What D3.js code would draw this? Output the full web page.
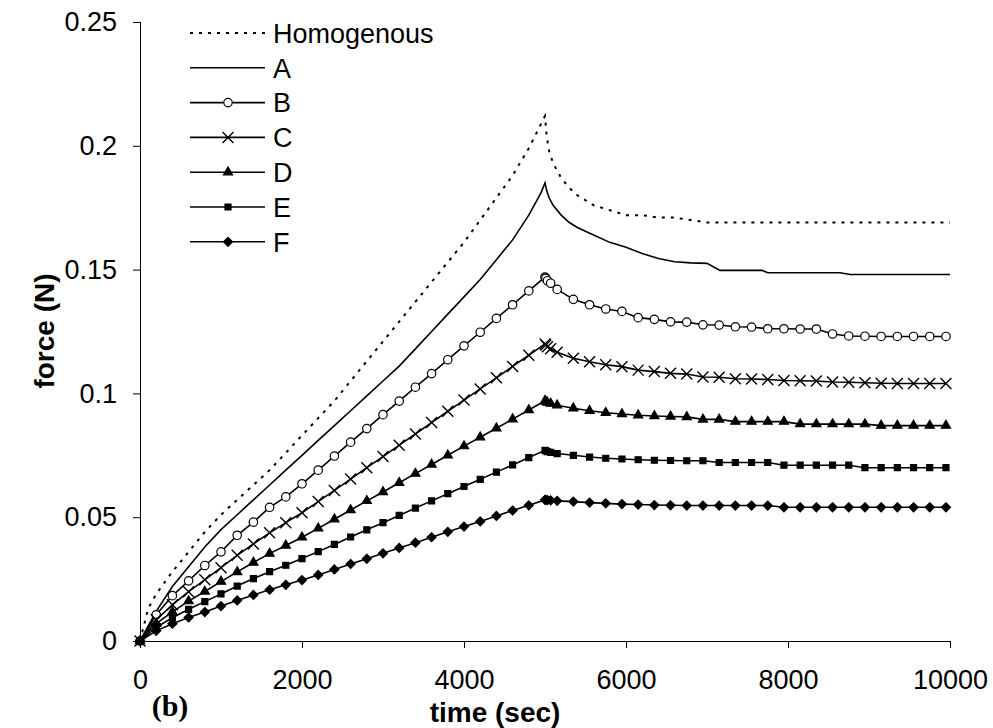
<!DOCTYPE html>
<html>
<head>
<meta charset="utf-8">
<script src="https://cdn.jsdelivr.net/npm/d3@7"></script>
<style>
    body { margin: 0; background: #fff; }
    svg text { font-family: "Liberation Sans", Arial, sans-serif; fill: #000; }
    .axis path, .axis line { stroke: #000; stroke-width: 1; }
    .axis text { font-size: 27px; }
</style>
</head>
<body>
<div id="chart"></div>
<script>
/*
    Force vs time for the homogenous sample and samples A-F
 */

// series names (legend order)
var seriesNames = ["Homogenous", "A", "B", "C", "D", "E", "F"];

// homogenous (dotted, no markers)
var homTimes = [0, 100, 200, 400, 600, 800, 1000, 1200, 1400, 1600, 1800, 2000, 2200, 2400, 2600, 2800, 3000,
    3200, 3400, 3600, 3800, 4000, 4200, 4400, 4600, 4800, 5000, 5020, 5050, 5100, 5200, 5300, 5400, 5600, 5800,
    6000, 6200, 6400, 6600, 6800, 7000, 7500, 8000, 8500, 9000, 9500, 10000];
var homForce = [0, 0.013, 0.019, 0.028, 0.036, 0.044, 0.051, 0.057, 0.063, 0.069, 0.076, 0.083, 0.090, 0.097,
    0.105, 0.113, 0.121, 0.129, 0.137, 0.145, 0.153, 0.161, 0.170, 0.179, 0.188, 0.199, 0.212, 0.204, 0.198,
    0.193, 0.187, 0.183, 0.180, 0.176, 0.174, 0.172, 0.172, 0.171, 0.171, 0.170, 0.169, 0.169, 0.169, 0.169,
    0.169, 0.169, 0.169];

// A (solid, no markers)
var aTimes = [0, 200, 400, 600, 800, 1000, 1200, 1400, 1600, 1800, 2000, 2200, 2400, 2600, 2800, 3000, 3200,
    3400, 3600, 3800, 4000, 4200, 4400, 4600, 4800, 4950, 5000, 5020, 5050, 5100, 5200, 5300, 5400, 5600, 5800,
    6000, 6200, 6400, 6600, 6800, 7000, 7160, 7680, 7750, 8640, 8770, 10000];
var aForce = [0, 0.012, 0.022, 0.030, 0.038, 0.045, 0.051, 0.057, 0.063, 0.069, 0.075, 0.081, 0.087, 0.093,
    0.099, 0.105, 0.111, 0.118, 0.125, 0.132, 0.139, 0.146, 0.154, 0.162, 0.172, 0.181, 0.185, 0.182, 0.179,
    0.176, 0.172, 0.169, 0.167, 0.164, 0.161, 0.159, 0.1565, 0.1545, 0.1532, 0.1527, 0.1525, 0.1497, 0.1497,
    0.1487, 0.1487, 0.148, 0.148];

// B-F share the same sample times (one marker per sample)
var markTimes = [0, 200, 400, 600, 800, 1000, 1200, 1400, 1600, 1800, 2000, 2200, 2400, 2600, 2800, 3000,
    3200, 3400, 3600, 3800, 4000, 4200, 4400, 4600, 4800, 5000, 5010, 5030, 5070, 5150, 5350, 5550, 5750,
    5950, 6150, 6350, 6550, 6750, 6950, 7150, 7350, 7550, 7750, 7950, 8150, 8350, 8550, 8750, 8950, 9150,
    9350, 9550, 9750, 9950];
var bForce = [0, 0.0106, 0.0183, 0.0243, 0.0305, 0.036, 0.0427, 0.048, 0.054, 0.0582, 0.0635, 0.069, 0.0747,
    0.0803, 0.0858, 0.0914, 0.0969, 0.1025, 0.108, 0.1136, 0.1192, 0.1247, 0.1303, 0.1358, 0.1414, 0.147,
    0.1465, 0.1455, 0.1445, 0.142, 0.138, 0.1358, 0.1341, 0.1331, 0.1306, 0.1299, 0.1289, 0.1288, 0.1277,
    0.1276, 0.1269, 0.1268, 0.1261, 0.1261, 0.126, 0.126, 0.124, 0.1232, 0.1231, 0.123, 0.123, 0.123, 0.123,
    0.123];
var cForce = [0, 0.0086, 0.0146, 0.0199, 0.0247, 0.0296, 0.0346, 0.0392, 0.0437, 0.0478, 0.0518, 0.0563,
    0.0608, 0.0654, 0.070, 0.0745, 0.0791, 0.0836, 0.0882, 0.0928, 0.0973, 0.1018, 0.1063, 0.1109, 0.1154,
    0.120, 0.1195, 0.1188, 0.118, 0.1166, 0.1142, 0.1128, 0.1116, 0.1108, 0.1094, 0.1088, 0.1081, 0.1078,
    0.1066, 0.1065, 0.1059, 0.1058, 0.1056, 0.1052, 0.1051, 0.105, 0.1046, 0.1045, 0.1043, 0.1041, 0.104,
    0.104, 0.104, 0.104];
var dForce = [0, 0.0070, 0.0118, 0.0161, 0.0200, 0.0240, 0.0279, 0.0317, 0.0353, 0.0386, 0.0419, 0.0455,
    0.0492, 0.0529, 0.0566, 0.0602, 0.0639, 0.0676, 0.0713, 0.0750, 0.0787, 0.0823, 0.0859, 0.0896, 0.0933,
    0.0970, 0.0967, 0.0963, 0.0959, 0.0952, 0.094, 0.093, 0.0922, 0.0917, 0.0912, 0.0909, 0.0907, 0.0905,
    0.0895, 0.0895, 0.0886, 0.0886, 0.0886, 0.0886, 0.0876, 0.0876, 0.0876, 0.0876, 0.0876, 0.087, 0.087,
    0.087, 0.087, 0.087];
var eForce = [0, 0.0055, 0.0094, 0.0128, 0.0159, 0.0190, 0.0222, 0.0252, 0.0280, 0.0306, 0.0333, 0.0361,
    0.0390, 0.0420, 0.0449, 0.0478, 0.0507, 0.0537, 0.0566, 0.0595, 0.0624, 0.0653, 0.0682, 0.0711, 0.0741,
    0.0770, 0.0768, 0.0765, 0.0762, 0.0757, 0.075, 0.0743, 0.0738, 0.0735, 0.0732, 0.073, 0.0729, 0.0728,
    0.0728, 0.0721, 0.0721, 0.0721, 0.0721, 0.071, 0.071, 0.071, 0.071, 0.071, 0.07, 0.07, 0.07, 0.07, 0.07,
    0.07];
var fForce = [0, 0.0041, 0.0070, 0.0095, 0.0117, 0.0141, 0.0164, 0.0186, 0.0207, 0.0227, 0.0246, 0.0267,
    0.0289, 0.0311, 0.0332, 0.0354, 0.0376, 0.0397, 0.0419, 0.0441, 0.0462, 0.0483, 0.0505, 0.0527, 0.0548,
    0.0570, 0.057, 0.0569, 0.0568, 0.0566, 0.0563, 0.0559, 0.0556, 0.0553, 0.0551, 0.0549, 0.0548, 0.0547,
    0.0547, 0.0547, 0.0547, 0.0547, 0.0547, 0.054, 0.054, 0.054, 0.054, 0.054, 0.054, 0.054, 0.054, 0.054,
    0.054, 0.054];

// axis ticks
var xTicks = [0, 2000, 4000, 6000, 8000, 10000];
var yTicks = [0, 0.05, 0.1, 0.15, 0.2, 0.25];

class ForceChart {
    constructor() {
        var self = this;
        self.width = 993;
        self.height = 728;
        self.init();
    }

    init() {
        var self = this;

        self.svg = d3.select("#chart").append("svg")
            .attr("width", self.width)
            .attr("height", self.height);

        self.xScale = d3.scaleLinear().domain([0, 10000]).range([140, 950]);
        self.yScale = d3.scaleLinear().domain([0, 0.25]).range([641, 22]);

        // marker shapes
        self.markers = {
            circle: d3.symbol().type(d3.symbolCircle).size(56)(),
            cross: "M-5.5,-5.5L5.5,5.5M-5.5,5.5L5.5,-5.5",
            triangle: d3.symbol().type(d3.symbolTriangle).size(36)(),
            square: d3.symbol().type(d3.symbolSquare).size(36)(),
            diamond: "M0,-4.5L4.5,0L0,4.5L-4.5,0Z"
        };

        self.series = [
            {name: seriesNames[0], t: homTimes, v: homForce, marker: null, dash: "3,6", width: 2},
            {name: seriesNames[1], t: aTimes, v: aForce, marker: null, dash: null, width: 1.6},
            {name: seriesNames[2], t: markTimes, v: bForce, marker: "circle", dash: null, width: 1.6},
            {name: seriesNames[3], t: markTimes, v: cForce, marker: "cross", dash: null, width: 1.6},
            {name: seriesNames[4], t: markTimes, v: dForce, marker: "triangle", dash: null, width: 1.6},
            {name: seriesNames[5], t: markTimes, v: eForce, marker: "square", dash: null, width: 1.6},
            {name: seriesNames[6], t: markTimes, v: fForce, marker: "diamond", dash: null, width: 1.6}
        ];

        self.drawAxes();
        self.drawSeries();
        self.drawLegend();
    }

    drawAxes() {
        var self = this;

        var xAxis = d3.axisBottom(self.xScale)
            .tickValues(xTicks)
            .tickSize(7)
            .tickPadding(22)
            .tickFormat(d3.format("d"));

        var yAxis = d3.axisLeft(self.yScale)
            .tickValues(yTicks)
            .tickSize(7)
            .tickPadding(16)
            .tickFormat(function(d) { return d === 0 ? "0" : String(+d.toFixed(2)); });

        self.svg.append("g")
            .attr("class", "axis x-axis")
            .attr("transform", "translate(0," + self.yScale(0) + ")")
            .call(xAxis)
            .call(function(g) { g.select(".domain").attr("d", "M140,0.5H950"); });

        self.svg.append("g")
            .attr("class", "axis y-axis")
            .attr("transform", "translate(" + self.xScale(0) + ",0)")
            .call(yAxis)
            .call(function(g) { g.select(".domain").attr("d", "M0.5,22V641"); });

        self.svg.append("text")
            .attr("transform", "translate(54,331) rotate(-90)")
            .attr("text-anchor", "middle")
            .style("font-size", "28px")
            .style("font-weight", "bold")
            .text("force (N)");

        self.svg.append("text")
            .attr("x", 495)
            .attr("y", 722)
            .attr("text-anchor", "middle")
            .style("font-size", "28px")
            .style("font-weight", "bold")
            .text("time (sec)");

        self.svg.append("text")
            .attr("x", 170)
            .attr("y", 716)
            .attr("text-anchor", "middle")
            .style("font-family", "'Liberation Serif', 'Times New Roman', serif")
            .style("font-size", "30px")
            .style("font-weight", "bold")
            .text("(b)");
    }

    drawSeries() {
        var self = this;

        var line = d3.line()
            .x(function(d) { return self.xScale(d[0]); })
            .y(function(d) { return self.yScale(d[1]); });

        self.series.forEach(function(s) {
            var pts = s.t.map(function(t, i) { return [t, s.v[i]]; });

            self.svg.append("path")
                .datum(pts)
                .attr("fill", "none")
                .attr("stroke", "#000")
                .attr("stroke-width", s.width)
                .attr("stroke-dasharray", s.dash)
                .attr("d", line);

            if (s.marker) {
                self.drawMarkers(self.svg.append("g"), pts, s.marker);
            }
        });
    }

    drawMarkers(g, pts, type) {
        var self = this;
        var open = (type === "circle" || type === "cross");
        g.selectAll("path")
            .data(pts)
            .enter().append("path")
            .attr("transform", function(d) {
                return "translate(" + self.xScale(d[0]) + "," + self.yScale(d[1]) + ")";
            })
            .attr("d", self.markers[type])
            .attr("fill", type === "circle" ? "#fff" : (open ? "none" : "#000"))
            .attr("stroke", "#000")
            .attr("stroke-width", type === "cross" ? 1.4 : 1.2);
    }

    drawLegend() {
        var self = this;
        var rowH = 34.8;

        var rows = self.svg.append("g")
            .attr("class", "legend")
            .selectAll("g")
            .data(self.series)
            .enter().append("g")
            .attr("transform", function(d, i) { return "translate(190," + (33 + i * rowH) + ")"; });

        rows.append("line")
            .attr("x1", 0)
            .attr("x2", 75)
            .attr("stroke", "#000")
            .attr("stroke-width", function(d) { return d.width; })
            .attr("stroke-dasharray", function(d) { return d.dash; });

        rows.each(function(d) {
            if (d.marker) {
                self.drawMarkers(d3.select(this), [[0, 0]], d.marker);
                d3.select(this).select("path")
                    .attr("transform", "translate(38,0)");
            }
        });

        rows.append("text")
            .attr("x", 83)
            .attr("dy", "0.36em")
            .style("font-size", "27px")
            .text(function(d) { return d.name; });
    }
}

new ForceChart();
</script>
</body>
</html>
